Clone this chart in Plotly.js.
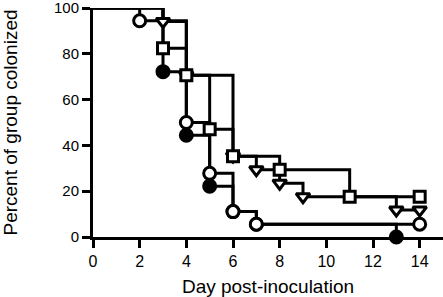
<!DOCTYPE html>
<html>
<head>
<meta charset="utf-8">
<script src="https://cdn.plot.ly/plotly-3.0.1.min.js"></script>
<style>html,body{margin:0;padding:0;background:#fff;}#chart{width:443px;height:297px;}</style>
</head>
<body>
<div id="chart"></div>
<script>
// Kaplan-Meier style step data (day of event, percent colonized after event)
const filledDays   = [0, 3, 4, 5, 6, 7, 13];
const filledPct    = [100, 72.2, 44.4, 22.2, 11.1, 5.6, 0];

const triangleDays = [0, 3, 4, 6, 7, 8, 9, 13, 14];
const trianglePct  = [100, 94.1, 70.6, 35.3, 29.4, 23.5, 17.6, 11.8, 11.8];

const squareDays   = [0, 3, 4, 5, 6, 8, 11, 14];
const squarePct    = [100, 82.4, 70.6, 47.1, 35.3, 29.4, 17.6, 17.6];

const circleDays   = [0, 2, 4, 5, 6, 7, 14];
const circlePct    = [100, 94.4, 50, 27.8, 11.1, 5.6, 5.6];

const xTickVals = [0, 2, 4, 6, 8, 10, 12, 14];
const yTickVals = [0, 20, 40, 60, 80, 100];

function lineTrace(days, pct) {
  return {
    x: days, y: pct, type: 'scatter', mode: 'lines',
    line: {shape: 'hv', color: '#000', width: 3},
    hoverinfo: 'skip', showlegend: false, cliponaxis: false
  };
}
function markerTrace(days, pct, symbol, filled, size) {
  return {
    x: days.slice(1), y: pct.slice(1), type: 'scatter', mode: 'markers',
    marker: {
      symbol: symbol, size: size,
      color: filled ? '#000' : '#fff',
      line: {color: '#000', width: 3}
    },
    showlegend: false, cliponaxis: false
  };
}

const data = [
  lineTrace(filledDays, filledPct),
  lineTrace(triangleDays, trianglePct),
  lineTrace(squareDays, squarePct),
  lineTrace(circleDays, circlePct),
  markerTrace(filledDays, filledPct, 'circle', true, 12),
  markerTrace(triangleDays, trianglePct, 'triangle-down', false, 12),
  markerTrace(squareDays, squarePct, 'square', false, 11),
  markerTrace(circleDays, circlePct, 'circle', false, 12)
];

const fontFam = '"Liberation Sans", Arial, Helvetica, sans-serif';

const layout = {
  width: 443, height: 297,
  margin: {l: 93, r: 0, t: 8, b: 60},
  paper_bgcolor: '#fff', plot_bgcolor: '#fff',
  font: {family: fontFam, color: '#000'},
  xaxis: {
    range: [0, 15], tickvals: xTickVals, ticktext: xTickVals.map(String),
    showline: true, linecolor: '#000', linewidth: 3,
    ticks: 'outside', ticklen: 8, tickwidth: 3, tickcolor: '#000',
    showgrid: false, zeroline: false, ticklabeloverflow: 'allow',
    tickfont: {size: 16, family: fontFam, color: '#000'},
    title: {text: 'Day post-inoculation', font: {size: 19, family: fontFam, color: '#000'}, standoff: 12}
  },
  yaxis: {
    range: [0, 100], tickvals: yTickVals, ticktext: yTickVals.map(String),
    showline: true, linecolor: '#000', linewidth: 3,
    ticks: 'outside', ticklen: 8, tickwidth: 3, tickcolor: '#000',
    showgrid: false, zeroline: false, ticklabeloverflow: 'allow',
    tickfont: {size: 15, family: fontFam, color: '#000'},
    title: {text: 'Percent of group colonized', font: {size: 19, family: fontFam, color: '#000'}, standoff: 40}
  },
  showlegend: false
};

Plotly.newPlot('chart', data, layout, {displayModeBar: false, staticPlot: true});
</script>
</body>
</html>
